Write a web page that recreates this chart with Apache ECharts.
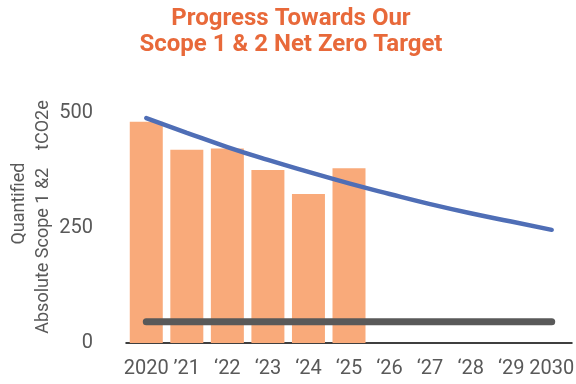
<!DOCTYPE html>
<html><head><meta charset="utf-8">
<script src="https://cdn.jsdelivr.net/npm/echarts@6/dist/echarts.min.js"></script>
<style>html,body{margin:0;padding:0;background:#fff}#c{width:576px;height:384px}</style>
</head><body><div id="c"></div>
<script>
const categories = ["2020", "’21", "‘22", "‘23", "‘24", "‘25", "‘26", "‘27", "‘28", "‘29", "2030"];
const actualEmissions = [481, 420, 423, 376, 324, 380, null, null, null, null, null];
const targetPath = [489, 457, 426, 398, 372, 347, 324, 302, 282, 264, 246];
const netZeroLevel = [46, 46, 46, 46, 46, 46, 46, 46, 46, 46, 46];
const yTicks = [0, 250, 500];

const chart = echarts.init(document.getElementById('c'));
chart.setOption({
  animation: false,
  textStyle: { fontFamily: 'Roboto' },
  title: {
    text: 'Progress Towards Our\nScope 1 & 2 Net Zero Target',
    left: 286, top: 1, textAlign: 'center',
    textStyle: { color: '#E8693A', fontSize: 24, fontWeight: 'bold', lineHeight: 26, fontFamily: 'Roboto' }
  },
  grid: { left: 126, right: 4, top: 113, bottom: 41, outerBoundsMode: 'none', containLabel: false },
  xAxis: {
    type: 'category', data: categories,
    axisLine: { lineStyle: { color: '#000', width: 1.5 } },
    axisTick: { show: false },
    axisLabel: { color: '#595959', fontSize: 20, margin: 16, interval: 0 }
  },
  yAxis: {
    type: 'value', min: yTicks[0], max: yTicks[2], interval: 250,
    splitLine: { show: false },
    axisLine: { show: false }, axisTick: { show: false },
    axisLabel: { color: '#595959', fontSize: 20, margin: 33 },
    name: '      Quantified\nAbsolute Scope 1 &2    tCO2e',
    nameLocation: 'middle', nameRotate: 90, nameGap: 71, nameMoveOverlap: false,
    nameTextStyle: { color: '#595959', fontSize: 18, lineHeight: 24, padding: [0, 0, 0, 22] }
  },
  series: [
    { type: 'bar', data: actualEmissions, barWidth: 33, itemStyle: { color: '#F9AA7A' }, z: 1 },
    { type: 'line', data: targetPath, smooth: true, symbol: 'none',
      lineStyle: { color: '#4F6EB6', width: 4.5, cap: 'round' }, z: 3 },
    { type: 'line', data: netZeroLevel, symbol: 'none',
      lineStyle: { color: '#595959', width: 7, cap: 'round' }, z: 3 }
  ]
});
</script></body></html>
